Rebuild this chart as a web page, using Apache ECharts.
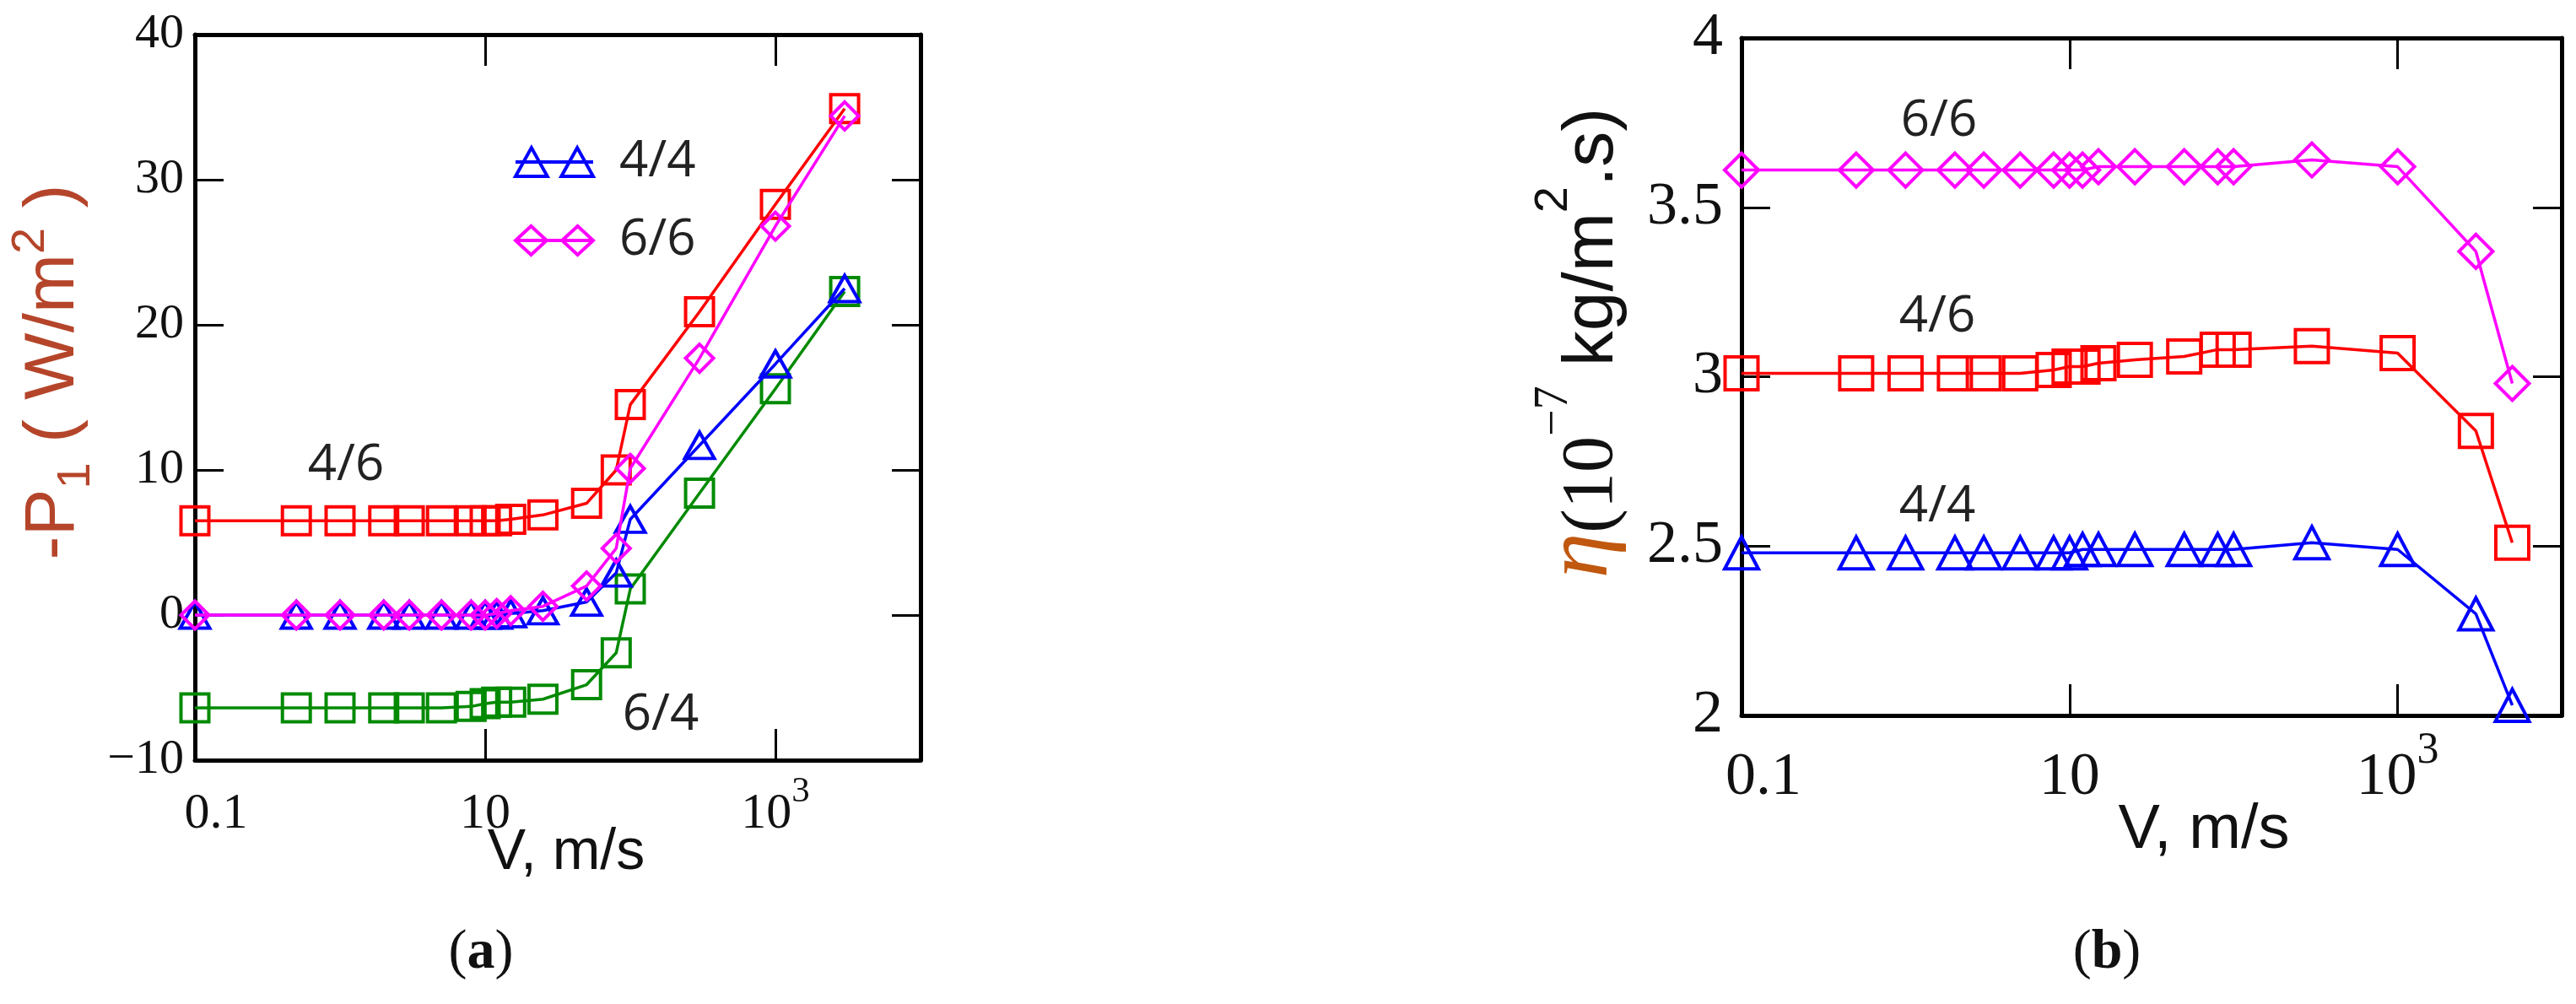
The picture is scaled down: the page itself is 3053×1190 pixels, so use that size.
<!DOCTYPE html>
<html><head><meta charset="utf-8">
<script src="https://cdn.jsdelivr.net/npm/echarts@6/dist/echarts.min.js"></script>
<style>html,body{margin:0;padding:0;background:#fff}#c{width:3053px;height:1190px}</style>
</head><body><div id="c"></div>
<script>
// ---- data ----
const velA = [0.1, 0.5, 1, 2, 3, 5, 8, 10, 12, 15, 25, 50, 80, 100, 300, 1000, 3000];
const velB = [0.1, 0.5, 1, 2, 3, 5, 8, 10, 12, 15, 25, 50, 80, 100, 300, 1000, 3000, 5000];
// panel (a): -P1 (W/m2)
const pA_46 = [6.5, 6.5, 6.5, 6.5, 6.5, 6.5, 6.5, 6.5, 6.5, 6.6, 6.9, 7.7, 10.0, 14.5, 20.9, 28.3, 34.9];
const pA_66 = [0, 0, 0, 0, 0, 0, 0, 0, 0.1, 0.3, 0.6, 2.0, 4.6, 10.1, 17.7, 26.8, 34.4];
const pA_44 = [0, 0, 0, 0, 0, 0, 0, 0, 0, 0.1, 0.3, 0.9, 2.9, 6.6, 11.7, 17.3, 22.5];
const pA_64 = [-6.4, -6.4, -6.4, -6.4, -6.4, -6.4, -6.3, -6.1, -6.0, -6.0, -5.8, -4.8, -2.6, 1.8, 8.4, 15.6, 22.3];
// panel (b): eta (1e-7 kg/m2.s)
const etaB_66 = [3.61, 3.61, 3.61, 3.61, 3.61, 3.61, 3.61, 3.61, 3.61, 3.62, 3.62, 3.62, 3.62, 3.62, 3.64, 3.62, 3.37, 2.98];
const etaB_46 = [3.01, 3.01, 3.01, 3.01, 3.01, 3.01, 3.02, 3.03, 3.03, 3.04, 3.05, 3.06, 3.08, 3.08, 3.09, 3.07, 2.84, 2.51];
const etaB_44 = [2.48, 2.48, 2.48, 2.48, 2.48, 2.48, 2.48, 2.48, 2.49, 2.49, 2.49, 2.49, 2.49, 2.49, 2.51, 2.49, 2.30, 2.03];
const xTickLabels = {'-1': '{f|0.1}', '1': '{b|10}', '3': '{b|10}{s|3}'};

// ---- styling ----
const serif = '"Liberation Serif","DejaVu Serif",serif';
const sans = '"Liberation Sans","DejaVu Sans",sans-serif';
const lab = '"Open Sans","DejaVu Sans",sans-serif';
const C = {red: '#ff0000', mag: '#ff00ff', blue: '#0000ff', green: '#008a00'};

function xFmt(v) {
  const l = Math.log10(v), e = Math.round(l);
  if (Math.abs(l - e) > 1e-6) return '';
  return xTickLabels[String(e)] || '';
}
function yFmt(v) { return v < 0 ? '\u2212' + Math.abs(v) : String(v); }

function xAxisDef(grid, bottom, fs, shift) {
  const lh = Math.round(fs * 1.3);
  return {
    type: 'log', logBase: 10, gridIndex: grid, min: 0.1, max: 10000, interval: 2,
    position: bottom ? 'bottom' : 'top',
    axisLine: {show: true, onZero: false, lineStyle: {color: '#000', width: 5}},
    axisTick: {show: true, inside: true, length: 37, lineStyle: {color: '#000', width: 3}},
    minorTick: {show: false}, splitLine: {show: false}, minorSplitLine: {show: false},
    axisLabel: bottom ? {show: true, formatter: xFmt, margin: 16, color: '#111',
      rich: {f: {fontFamily: serif, fontSize: fs, color: '#111', verticalAlign: 'bottom', lineHeight: lh, padding: [0, 0, 0, shift]},
             b: {fontFamily: serif, fontSize: fs, color: '#111', verticalAlign: 'bottom', lineHeight: lh},
             s: {fontFamily: serif, fontSize: Math.round(fs * 0.72), color: '#111', verticalAlign: 'top', lineHeight: lh}}} : {show: false}
  };
}
function yAxisDef(grid, left, min, max, itv, fs, margin, dy) {
  return {
    type: 'value', gridIndex: grid, min: min, max: max, interval: itv,
    position: left ? 'left' : 'right',
    axisLine: {show: true, onZero: false, lineStyle: {color: '#000', width: 5}},
    axisTick: {show: true, inside: true, length: 34, lineStyle: {color: '#000', width: 3}},
    splitLine: {show: false},
    axisLabel: left ? {show: true, formatter: yFmt, margin: margin, fontFamily: serif, fontSize: fs, color: '#111',
      padding: [dy, 0, 0, 0]} : {show: false}
  };
}
function ser(name, xs, ys, color, symbol, size, xi, yi, z) {
  return {
    type: 'line', name: name, xAxisIndex: xi, yAxisIndex: yi, z: z,
    data: xs.map((x, i) => [x, ys[i]]),
    symbol: symbol, symbolSize: size, showSymbol: true, showAllSymbol: true,
    lineStyle: {color: color, width: 3.5},
    itemStyle: {color: 'rgba(255,255,255,0)', borderColor: color, borderWidth: 4},
    emphasis: {disabled: true}, silent: true, clip: false
  };
}

const chart = echarts.init(document.getElementById('c'));
chart.setOption({
  animation: false,
  backgroundColor: '#fff',
  grid: [
    {left: 231, width: 860, top: 41, height: 860},
    {left: 2064, width: 972, top: 45, height: 803}
  ],
  xAxis: [
    Object.assign(xAxisDef(0, true, 60, 50), {name: 'V, m/s', nameLocation: 'middle', nameGap: 76, nameMoveOverlap: false,
      nameTextStyle: {fontFamily: sans, fontSize: 68, color: '#111', padding: [0, 0, 0, 20]}}),
    xAxisDef(0, false, 60, 0),
    Object.assign(xAxisDef(1, true, 72, 52), {name: 'V, m/s', nameLocation: 'middle', nameGap: 100, nameMoveOverlap: false,
      nameTextStyle: {fontFamily: sans, fontSize: 74, color: '#111', padding: [0, 0, 0, 124]}}),
    xAxisDef(1, false, 72, 0)
  ],
  yAxis: [
    Object.assign(yAxisDef(0, true, -10, 40, 10, 58, 13, 16), {
      name: '-P{sub|1} ( W/m{sup|2} )', nameLocation: 'middle', nameRotate: 90, nameGap: 112,
      nameTextStyle: {fontFamily: sans, fontSize: 84, color: '#b5452a', padding: [0, 0, 0, 60],
        rich: {sub: {fontFamily: sans, fontSize: 56, color: '#b5452a', verticalAlign: 'bottom', lineHeight: 110},
               sup: {fontFamily: sans, fontSize: 56, color: '#b5452a', verticalAlign: 'top', lineHeight: 110}}}
    }),
    yAxisDef(0, false, -10, 40, 10, 58, 13, 16),
    Object.assign(yAxisDef(1, true, 2, 4, 0.5, 72, 22, 24), {
      name: '{eta|η}{ser|(10}{sup|−7}{t| kg/m}{sup2|2}{t|.s)}', nameLocation: 'middle', nameRotate: 90, nameGap: 134,
      nameTextStyle: {fontFamily: sans, fontSize: 84, color: '#111', padding: [0, 0, 0, 80],
        rich: {
          eta: {fontFamily: serif, fontStyle: 'italic', fontSize: 108, color: '#c0580f', verticalAlign: 'bottom', lineHeight: 116},
          ser: {fontFamily: serif, fontSize: 86, color: '#111', verticalAlign: 'bottom', lineHeight: 112},
          sup: {fontFamily: serif, fontSize: 56, color: '#111', verticalAlign: 'top', lineHeight: 112},
          t: {fontFamily: sans, fontSize: 84, color: '#111', verticalAlign: 'bottom', lineHeight: 112},
          sup2: {fontFamily: sans, fontSize: 56, color: '#111', verticalAlign: 'top', lineHeight: 112}
        }}
    }),
    yAxisDef(1, false, 2, 4, 0.5, 72, 22, 24)
  ],
  legend: {
    data: [
      {name: '4/4', icon: 'path://M0,34L20.5,0L41,34ZM59,34L79.5,0L100,34ZM0,17L100,17'},
      {name: '6/6', icon: 'path://M0,17L20,0L40,17L20,34ZM60,17L80,0L100,17L80,34ZM0,17L100,17'}
    ],
    orient: 'vertical', left: 604, top: 157, symbolKeepAspect: false,
    itemWidth: 92, itemHeight: 34, itemGap: 33, selectedMode: false,
    itemStyle: {borderWidth: 4},
    textStyle: {fontFamily: lab, fontSize: 60, color: '#222', lineHeight: 34, padding: [0, 0, 0, 26]}
  },
  series: [
    ser('4/6', velA, pA_46, C.red, 'rect', 33, 0, 0, 2),
    ser('6/4', velA, pA_64, C.green, 'rect', 33, 0, 0, 2),
    ser('4/4', velA, pA_44, C.blue, 'triangle', [35, 31], 0, 0, 3),
    ser('6/6', velA, pA_66, C.mag, 'diamond', [33, 33], 0, 0, 4),
    ser('6/6', velB, etaB_66, C.mag, 'diamond', [40, 40], 2, 2, 4),
    ser('4/6', velB, etaB_46, C.red, 'rect', 39, 2, 2, 3),
    ser('4/4', velB, etaB_44, C.blue, 'triangle', [40, 38], 2, 2, 3)
  ],
  graphic: [
    {type: 'text', x: 410, y: 552, style: {text: '4/6', align: 'center', verticalAlign: 'middle', fontFamily: lab, fontSize: 60, fill: '#222'}},
    {type: 'text', x: 783, y: 848, style: {text: '6/4', align: 'center', verticalAlign: 'middle', fontFamily: lab, fontSize: 60, fill: '#222'}},
    {type: 'text', x: 2298, y: 144, style: {text: '6/6', align: 'center', verticalAlign: 'middle', fontFamily: lab, fontSize: 60, fill: '#222'}},
    {type: 'text', x: 2296, y: 376, style: {text: '4/6', align: 'center', verticalAlign: 'middle', fontFamily: lab, fontSize: 60, fill: '#222'}},
    {type: 'text', x: 2296, y: 601, style: {text: '4/4', align: 'center', verticalAlign: 'middle', fontFamily: lab, fontSize: 60, fill: '#222'}},
    {type: 'text', x: 570, y: 1130, style: {text: '({bb|a})', align: 'center', verticalAlign: 'middle', fontFamily: serif, fontSize: 66, fill: '#111',
      rich: {bb: {fontFamily: serif, fontWeight: 'bold', fontSize: 66, fill: '#111'}}}},
    {type: 'text', x: 2497, y: 1130, style: {text: '({bb|b})', align: 'center', verticalAlign: 'middle', fontFamily: serif, fontSize: 66, fill: '#111',
      rich: {bb: {fontFamily: serif, fontWeight: 'bold', fontSize: 66, fill: '#111'}}}}
  ]
});
</script></body></html>
